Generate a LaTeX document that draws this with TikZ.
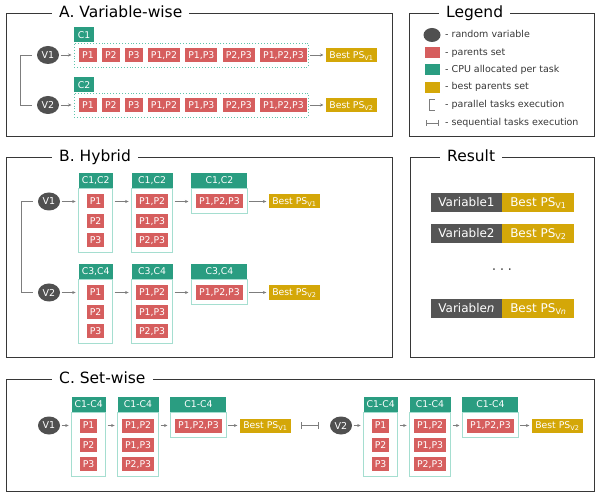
\documentclass[tikz,border=0pt]{standalone}
\usepackage{fontspec}
\setmainfont{DejaVu Sans}
\usetikzlibrary{positioning,shapes.geometric,arrows.meta}

\definecolor{pred}{RGB}{214,94,94}
\definecolor{cgreen}{RGB}{42,157,129}
\definecolor{bgold}{RGB}{212,167,8}
\definecolor{vgray}{RGB}{80,80,80}
\definecolor{rgray}{RGB}{85,85,85}
\definecolor{lteal}{RGB}{165,222,208}
\definecolor{dteal}{RGB}{95,195,170}
\definecolor{fgray}{RGB}{55,55,55}
\definecolor{agray}{RGB}{125,125,125}

\tikzset{
  var/.style={ellipse,fill=vgray,text=white,minimum width=22pt,minimum height=18pt,inner sep=0pt,font=\fontsize{9.5}{11}\selectfont},
  box/.style={text=white,inner xsep=3pt,inner ysep=0pt,minimum height=14pt,text height=6.8pt,text depth=0pt,font=\fontsize{9.3}{11}\selectfont},
  pset/.style={box,fill=pred},
  cpu/.style={box,fill=cgreen,minimum height=15pt},
  best/.style={box,fill=bgold,inner xsep=3.2pt},
  colbody/.style={draw=lteal,line width=0.9pt,inner sep=0pt},
  dotbox/.style={draw=dteal,dotted,line width=0.9pt,inner sep=0pt},
  frame/.style={draw=fgray,line width=0.9pt,inner sep=0pt,anchor=north west},
  title/.style={fill=white,inner xsep=7pt,inner ysep=1pt,anchor=base west,font=\fontsize{15.5}{18}\selectfont},
  arr/.style={draw=agray,line width=0.6pt,-{Stealth[length=3.5pt,width=3pt]},shorten <=1.5pt,shorten >=2.5pt},
  link/.style={draw=agray,line width=0.9pt},
  legtext/.style={anchor=west,inner sep=0pt,text=fgray,text height=7pt,text depth=2pt,font=\fontsize{9.5}{11}\selectfont},
  resvar/.style={fill=rgray,text=white,minimum width=71pt,minimum height=19pt,inner sep=0pt,text height=8.8pt,text depth=0pt,font=\fontsize{12}{14}\selectfont},
  resbest/.style={resvar,fill=bgold,minimum width=72pt},
}

\newcommand{\hybrid}[7]{
  \node[var] (#1v) at (#3) {#2};

  \node[colbody,minimum width=34pt,minimum height=64pt,anchor=north west] (#1c1) at ([xshift=#6,yshift=13.5pt]#1v.east) {};
  \node[cpu,minimum width=34pt,anchor=south] (#1h1) at (#1c1.north) {#4};
  \node[pset] (#1p11) at (#1c1.north |- #1v) {P1};
  \node[pset,below=5pt of #1p11] (#1p12) {P2};
  \node[pset,below=5pt of #1p12] (#1p13) {P3};

  \node[colbody,minimum width=41pt,minimum height=64pt,anchor=north west] (#1c2) at ([xshift=#6]#1c1.north east) {};
  \node[cpu,minimum width=41pt,anchor=south] (#1h2) at (#1c2.north) {#4};
  \node[pset] (#1p21) at (#1c2.north |- #1v) {P1,P2};
  \node[pset,below=5pt of #1p21] (#1p22) {P1,P3};
  \node[pset,below=5pt of #1p22] (#1p23) {P2,P3};

  \node[colbody,minimum width=56pt,minimum height=25pt,anchor=north west] (#1c3) at ([xshift=#6]#1c2.north east) {};
  \node[cpu,minimum width=56pt,anchor=south] (#1h3) at (#1c3.north) {#4};
  \node[pset] (#1p31) at (#1c3.north |- #1v) {P1,P2,P3};

  \node[best,right=#7 of #1p31] (#1best) {Best PS\textsubscript{#5}};

  \draw[arr] (#1v) -- (#1c1.west |- #1v);
  \draw[arr] (#1c1.east |- #1v) -- (#1c2.west |- #1v);
  \draw[arr] (#1c2.east |- #1v) -- (#1c3.west |- #1v);
  \draw[arr] (#1c3.east |- #1v) -- (#1best);
}

\begin{document}
\begin{tikzpicture}[x=1pt,y=-1pt]
  \useasboundingbox (0,0) rectangle (600,497);

  \node[frame,minimum width=386pt,minimum height=123pt] (fa) at (6,13) {};
  \node[frame,minimum width=185pt,minimum height=123pt] (fleg) at (409,13) {};
  \node[frame,minimum width=386pt,minimum height=200pt] (fb) at (6,157) {};
  \node[frame,minimum width=184pt,minimum height=200pt] (fres) at (410,157) {};
  \node[frame,minimum width=588pt,minimum height=112pt] (fc) at (6,379) {};

  \node[title] (ta) at ([xshift=46pt,yshift=-4.5pt]fa.north west) {A. Variable-wise};
  \node[title] (tleg) at ([xshift=30pt,yshift=-4.5pt]fleg.north west) {Legend};
  \node[title] (tb) at ([xshift=46pt,yshift=-4.5pt]fb.north west) {B. Hybrid};
  \node[title] (tres) at ([xshift=30pt,yshift=-4.5pt]fres.north west) {Result};
  \node[title] (tc) at ([xshift=46pt,yshift=-4.5pt]fc.north west) {C. Set-wise};

  \foreach \i/\y in {1/55,2/105} {
    \node[var] (av\i) at (48,\y) {V\i};
    \node[dotbox,minimum width=234pt,minimum height=24pt,anchor=west] (abox\i) at (74,\y) {};
    \node[cpu,minimum width=20pt,anchor=south west] (ac\i) at (abox\i.north west) {C\i};
    \coordinate (ap\i-0) at (abox\i.west);
    \foreach \s [count=\k, remember=\k as \j (initially 0)] in {P1,P2,P3,{P1,P2},{P1,P3},{P2,P3},{P1,P2,P3}}
      \node[pset,right=5pt of ap\i-\j] (ap\i-\k) {\s};
    \node[best,anchor=west] (abest\i) at (326,\y) {Best PS\textsubscript{V\i}};
    \draw[arr] (av\i) -- (abox\i);
    \draw[arr] (abox\i) -- (abest\i);
  }
  \draw[link] ([xshift=-5pt]av1.west) -- ++(-11,0) |- ([xshift=-5pt]av2.west);

  \node[var,minimum width=17pt,minimum height=14pt] (lvar) at (432,35) {};
  \node[fill=pred,minimum width=15pt,minimum height=11pt,inner sep=0pt] (lps) at (432,53) {};
  \node[fill=cgreen,minimum width=15pt,minimum height=11pt,inner sep=0pt] (lcpu) at (432,70) {};
  \node[fill=bgold,minimum width=15pt,minimum height=11pt,inner sep=0pt] (lbest) at (432,87.5) {};
  \coordinate (lpar) at (432,105);
  \coordinate (lseq) at (432.5,123);
  \draw[link,line width=0.7pt] (lpar) ++(2.5,-5.5) -- ++(-5,0) -- ++(0,11) -- ++(5,0);
  \draw[link,line width=0.7pt,{Bar[width=6pt]}-{Bar[width=6pt]}] ([xshift=-6.5pt]lseq) -- ([xshift=6.5pt]lseq);
  \node[legtext] (lvart) at (445,35) {- random variable};
  \node[legtext] (lpst) at (445,53) {- parents set};
  \node[legtext] (lcput) at (445,70) {- CPU allocated per task};
  \node[legtext] (lbestt) at (445,87.5) {- best parents set};
  \node[legtext] (lpart) at (445,105) {- parallel tasks execution};
  \node[legtext] (lseqt) at (445,123) {- sequential tasks execution};

  \hybrid{b1}{V1}{49,201.5}{C1,C2}{V1}{18pt}{26pt}
  \hybrid{b2}{V2}{49,292.5}{C3,C4}{V2}{18pt}{26pt}
  \draw[link] ([xshift=-5pt]b1v.west) -- ++(-11,0) |- ([xshift=-5pt]b2v.west);

  \node[resvar] (r1) at (466.5,202.5) {Variable1};
  \node[resbest,right=0pt of r1] (r1b) {Best PS\textsubscript{V1}};
  \node[resvar] (r2) at (466.5,233.5) {Variable2};
  \node[resbest,right=0pt of r2] (r2b) {Best PS\textsubscript{V2}};
  \node[text=vgray,font=\fontsize{14}{16}\selectfont] (rdots) at (502,270) {.\hspace{3.5pt}.\hspace{3.5pt}.};
  \node[resvar] (rn) at (466.5,308.5) {Variable\textit{n}};
  \node[resbest,right=0pt of rn] (rnb) {Best PS\textsubscript{V\textit{n}}};

  \hybrid{c1}{V1}{49,425.5}{C1-C4}{V1}{11pt}{18pt}
  \hybrid{c2}{V2}{341,425.5}{C1-C4}{V2}{11pt}{18pt}
  \draw[link,line width=0.8pt,{Bar[width=7pt]}-{Bar[width=7pt]}] ([xshift=10pt]c1best.east) -- ([xshift=-11pt]c2v.west);
\end{tikzpicture}
\end{document}
